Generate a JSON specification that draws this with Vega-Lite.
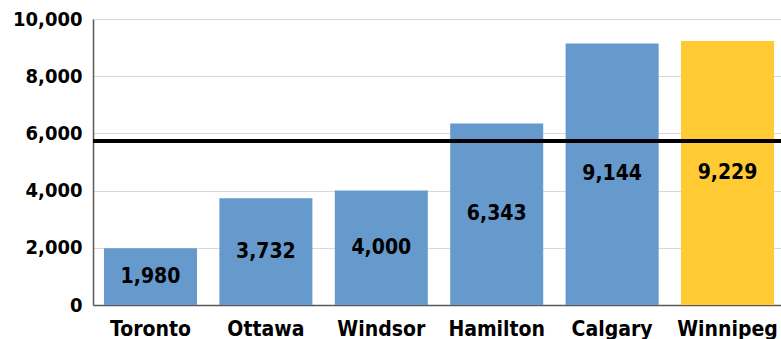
{
  "$schema": "https://vega.github.io/schema/vega-lite/v6.json",
  "width": 692,
  "height": 286,
  "autosize": {"type": "none"},
  "padding": {"left": 93, "top": 19, "right": -4, "bottom": 34},
  "background": "white",
  "config": {
    "view": {"stroke": null},
    "font": "DejaVu Sans Condensed",
    "axis": {
      "labelFont": "DejaVu Sans Condensed",
      "labelFontWeight": "bold",
      "labelFontSize": 20,
      "labelColor": "#000000",
      "domainColor": "#595959",
      "domainWidth": 1.5,
      "gridColor": "#D9D9D9",
      "gridWidth": 1,
      "ticks": false,
      "title": null
    },
    "axisX": {"labelAngle": 0, "labelPadding": 13, "grid": false, "labelFontSize": 21},
    "axisY": {"labelPadding": 11, "grid": true}
  },
  "data": {
    "values": [
      {"city": "Toronto", "value": 1980, "highlight": "no"},
      {"city": "Ottawa", "value": 3732, "highlight": "no"},
      {"city": "Windsor", "value": 4000, "highlight": "no"},
      {"city": "Hamilton", "value": 6343, "highlight": "no"},
      {"city": "Calgary", "value": 9144, "highlight": "no"},
      {"city": "Winnipeg", "value": 9229, "highlight": "yes"}
    ]
  },
  "layer": [
    {
      "mark": {"type": "bar"},
      "encoding": {
        "x": {
          "field": "city", "type": "nominal", "sort": null,
          "scale": {"paddingInner": 0.194, "paddingOuter": 0.095}
        },
        "y": {
          "field": "value", "type": "quantitative",
          "scale": {"domain": [0, 10000], "nice": false},
          "axis": {"format": ",.0f", "values": [0, 2000, 4000, 6000, 8000, 10000]}
        },
        "color": {
          "field": "highlight", "type": "nominal",
          "scale": {"domain": ["no", "yes"], "range": ["#6699CC", "#FFCA33"]},
          "legend": null
        }
      }
    },
    {
      "mark": {"type": "rule", "color": "#000000", "strokeWidth": 4},
      "encoding": {
        "y": {"aggregate": "mean", "field": "value", "type": "quantitative", "axis": {"format": ",.0f", "values": [0, 2000, 4000, 6000, 8000, 10000]}}
      }
    },
    {
      "transform": [{"calculate": "datum.value / 2", "as": "mid"}],
      "mark": {"type": "text", "font": "DejaVu Sans Condensed", "fontWeight": "bold", "fontSize": 21, "color": "#000000", "baseline": "middle", "align": "center"},
      "encoding": {
        "x": {"field": "city", "type": "nominal", "sort": null},
        "y": {"field": "mid", "type": "quantitative", "axis": {"format": ",.0f", "values": [0, 2000, 4000, 6000, 8000, 10000]}},
        "text": {"field": "value", "type": "quantitative", "format": ","}
      }
    }
  ]
}
